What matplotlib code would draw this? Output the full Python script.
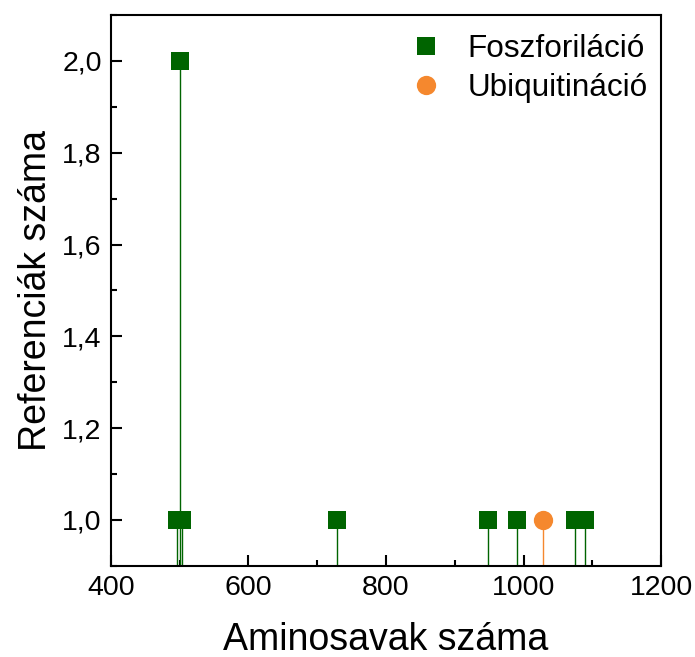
import matplotlib
matplotlib.use("Agg")
import matplotlib.pyplot as plt
from matplotlib.ticker import MultipleLocator, FuncFormatter

plt.rcParams['font.family'] = ['Liberation Sans', 'DejaVu Sans']

phos_x = [496, 501, 504, 729, 948, 991, 1075, 1089]
phos_y = [1, 2, 1, 1, 1, 1, 1, 1]
ubi_x = [1029]
ubi_y = [1]

green = '#006400'
orange = '#F5882E'

fig = plt.figure(figsize=(6.95, 6.57), dpi=100)
ax = fig.add_axes([0.1597, 0.139, 0.7914, 0.838])

ymin = 0.9
ax.vlines(phos_x, ymin, phos_y, color=green, lw=1.0, zorder=2)
ax.vlines(ubi_x, ymin, ubi_y, color=orange, lw=1.0, zorder=2)
ax.plot(phos_x, phos_y, 's', color=green, ms=12.8, mec=green, mew=0, ls='none',
        label='Foszforiláció', zorder=3)
ax.plot(ubi_x, ubi_y, 'o', color=orange, ms=13.9, mew=0, ls='none',
        label='Ubiquitináció', zorder=3)

ax.set_xlim(400, 1200)
ax.set_ylim(0.9, 2.1)
ax.xaxis.set_major_locator(MultipleLocator(200))
ax.xaxis.set_minor_locator(MultipleLocator(100))
ax.yaxis.set_major_locator(MultipleLocator(0.2))
ax.yaxis.set_minor_locator(MultipleLocator(0.1))
ax.yaxis.set_major_formatter(FuncFormatter(lambda v, p: f"{v:.1f}".replace('.', ',')))

ax.tick_params(which='both', direction='in', top=False, right=False, width=1.5)
ax.tick_params(which='major', length=8, labelsize=20.5)
ax.tick_params(axis='x', which='major', pad=7)
ax.tick_params(axis='y', which='major', pad=6.7)
ax.tick_params(which='minor', length=4)
for s in ax.spines.values():
    s.set_linewidth(1.5)

ax.set_xlabel('Aminosavak száma', fontsize=27, labelpad=15)
ax.set_ylabel('Referenciák száma', fontsize=27, labelpad=6)

ax.legend(loc='upper right', frameon=False, fontsize=22.7, handletextpad=0.7,
          borderaxespad=0.2, labelspacing=0.28, handlelength=1.2,
          bbox_to_anchor=(1.01, 1.0))

fig.savefig('out.png', dpi=100)
